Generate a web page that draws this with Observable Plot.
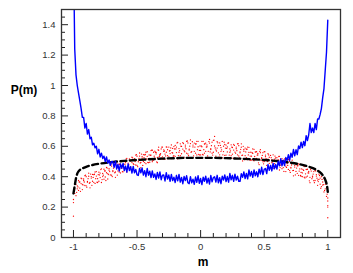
<!DOCTYPE html>
<html>
<head>
<meta charset="utf-8">
<script src="https://cdn.jsdelivr.net/npm/d3@7"></script>
<script src="https://cdn.jsdelivr.net/npm/@observablehq/plot@0.6"></script>
<style>
  html, body { margin: 0; padding: 0; background: #fff; }
</style>
</head>
<body>
<div id="chart"></div>
<script>
// Sampling grids: m = -1.00 ... 1.00 (step 0.01) and the in-between positions
const gridM = d3.range(201).map(i => Math.round((-1 + i * 0.01) * 1000) / 1000);
const gridHalf = d3.range(200).map(i => Math.round((-0.995 + i * 0.01) * 1000) / 1000);

// Blue noisy curve P(m) on gridM
const blueP = [
  1.90, 1.24, 1.07, 1.00, 0.95, 0.90, 0.85, 0.79, 0.79, 0.72, 0.75, 0.68, 0.71, 0.65, 0.66, 0.61, 0.62, 0.59, 0.60, 0.55, 0.58, 0.53, 0.555, 0.52, 0.535, 0.50, 0.53, 0.49, 0.51, 0.475, 0.50,
  0.498, 0.461, 0.502, 0.450, 0.480, 0.438, 0.484, 0.456, 0.487, 0.440, 0.470, 0.430, 0.484, 0.440, 0.466, 0.424, 0.468, 0.426, 0.448, 0.412,
  0.408, 0.454, 0.426, 0.457, 0.410, 0.440, 0.400, 0.454, 0.410, 0.436, 0.394, 0.438, 0.396, 0.418, 0.382, 0.428, 0.391, 0.432, 0.380, 0.410,
  0.411, 0.372, 0.427, 0.384, 0.411, 0.370, 0.415, 0.374, 0.397, 0.362, 0.409, 0.373, 0.415, 0.364, 0.395, 0.354, 0.401, 0.374, 0.406, 0.360,
  0.354, 0.400, 0.360, 0.384, 0.350, 0.398, 0.363, 0.406, 0.356, 0.388, 0.348, 0.396, 0.370, 0.403, 0.358, 0.390, 0.352, 0.408, 0.366, 0.394,
  0.399, 0.365, 0.409, 0.360, 0.393, 0.354, 0.403, 0.378, 0.412, 0.368, 0.401, 0.364, 0.421, 0.380, 0.409, 0.370, 0.417, 0.378, 0.403, 0.370,
  0.370, 0.420, 0.396, 0.431, 0.388, 0.422, 0.386, 0.444, 0.404, 0.434, 0.396, 0.444, 0.406, 0.432, 0.400, 0.450, 0.417, 0.462, 0.414, 0.448,
  0.454, 0.420, 0.480, 0.442, 0.474, 0.438, 0.488, 0.452, 0.480, 0.450, 0.502, 0.471, 0.518, 0.472, 0.508, 0.473, 0.526, 0.506, 0.545, 0.507,
  0.555, 0.528, 0.579, 0.537, 0.577, 0.545, 0.602, 0.585, 0.627, 0.591, 0.632, 0.604, 0.670, 0.638, 0.676,
  0.75, 0.69, 0.72, 0.69, 0.75, 0.71, 0.78, 0.78, 0.81, 0.85, 0.92, 0.98, 1.10, 1.22, 1.43
];

// Red scattered dots: two samples per gridM position, one per gridHalf position
const redA = [
  0.29, 0.29, 0.35, 0.34, 0.31, 0.365, 0.39, 0.35, 0.385, 0.342, 0.40, 0.369, 0.423, 0.362, 0.401, 0.415, 0.363, 0.431, 0.404, 0.362,
  0.430, 0.394, 0.452, 0.421, 0.384, 0.438, 0.461, 0.420, 0.453, 0.412, 0.470, 0.439, 0.492, 0.431, 0.469, 0.483, 0.431, 0.500, 0.473, 0.432,
  0.500, 0.463, 0.521, 0.489, 0.452, 0.505, 0.528, 0.486, 0.519, 0.477, 0.535, 0.503, 0.556, 0.494, 0.532, 0.545, 0.493, 0.561, 0.534, 0.492,
  0.495, 0.542, 0.574, 0.511, 0.568, 0.560, 0.527, 0.594, 0.546, 0.583, 0.530, 0.577, 0.549, 0.596, 0.578, 0.530, 0.572, 0.609, 0.556, 0.598,
  0.606, 0.559, 0.626, 0.585, 0.538, 0.599, 0.624, 0.571, 0.608, 0.555, 0.622, 0.581, 0.642, 0.565, 0.608, 0.621, 0.555, 0.633, 0.597, 0.543,
  0.543, 0.597, 0.633, 0.555, 0.621, 0.609, 0.567, 0.645, 0.585, 0.627, 0.561, 0.665, 0.577, 0.630, 0.605, 0.544, 0.591, 0.632, 0.565, 0.612,
  0.608, 0.563, 0.623, 0.583, 0.538, 0.592, 0.613, 0.562, 0.595, 0.544, 0.604, 0.563, 0.616, 0.542, 0.579, 0.588, 0.525, 0.595, 0.560, 0.508,
  0.510, 0.553, 0.580, 0.513, 0.565, 0.553, 0.515, 0.578, 0.525, 0.558, 0.500, 0.542, 0.509, 0.551, 0.528, 0.475, 0.512, 0.544, 0.486, 0.523,
  0.525, 0.482, 0.534, 0.496, 0.453, 0.500, 0.517, 0.469, 0.496, 0.448, 0.500, 0.462, 0.509, 0.441, 0.473, 0.480, 0.422, 0.484, 0.451, 0.403,
  0.400, 0.441, 0.467, 0.398, 0.449, 0.435, 0.396, 0.457, 0.403, 0.434, 0.375, 0.414, 0.378, 0.417, 0.391, 0.335, 0.365, 0.390, 0.320, 0.330,
  0.26
];
const redB = [
  0.23, 0.32, 0.275, 0.32, 0.375, 0.325, 0.355, 0.315, 0.375, 0.407, 0.34, 0.364, 0.403, 0.327, 0.391, 0.37, 0.413, 0.356, 0.434, 0.387,
  0.370, 0.424, 0.362, 0.401, 0.449, 0.398, 0.426, 0.385, 0.443, 0.477, 0.410, 0.434, 0.472, 0.396, 0.459, 0.438, 0.481, 0.425, 0.503, 0.457,
  0.440, 0.493, 0.431, 0.469, 0.517, 0.465, 0.493, 0.451, 0.509, 0.542, 0.475, 0.498, 0.536, 0.459, 0.522, 0.500, 0.543, 0.486, 0.564, 0.517,
  0.520, 0.572, 0.499, 0.561, 0.523, 0.550, 0.492, 0.574, 0.541, 0.523, 0.595, 0.567, 0.514, 0.561, 0.538, 0.595, 0.552, 0.519, 0.586, 0.538,
  0.534, 0.595, 0.518, 0.561, 0.616, 0.551, 0.582, 0.529, 0.596, 0.633, 0.550, 0.575, 0.618, 0.523, 0.596, 0.567, 0.615, 0.543, 0.633, 0.573,
  0.573, 0.633, 0.543, 0.615, 0.567, 0.597, 0.525, 0.621, 0.579, 0.555, 0.639, 0.602, 0.535, 0.588, 0.557, 0.622, 0.567, 0.524, 0.601, 0.540,
  0.542, 0.596, 0.523, 0.561, 0.610, 0.548, 0.575, 0.524, 0.584, 0.616, 0.537, 0.557, 0.594, 0.504, 0.568, 0.538, 0.581, 0.512, 0.593, 0.536,
  0.535, 0.583, 0.505, 0.563, 0.520, 0.543, 0.480, 0.558, 0.520, 0.498, 0.565, 0.532, 0.474, 0.516, 0.488, 0.540, 0.492, 0.454, 0.516, 0.463,
  0.465, 0.512, 0.444, 0.476, 0.518, 0.460, 0.482, 0.434, 0.486, 0.513, 0.440, 0.457, 0.489, 0.406, 0.463, 0.435, 0.472, 0.409, 0.481, 0.428,
  0.425, 0.471, 0.392, 0.448, 0.404, 0.425, 0.361, 0.437, 0.398, 0.374, 0.440, 0.404, 0.343, 0.382, 0.351, 0.400, 0.345, 0.300, 0.350, 0.270,
  0.21
];
const redC = [
  0.29, 0.352, 0.297, 0.333, 0.365, 0.304, 0.387, 0.346, 0.365, 0.410, 0.331, 0.387, 0.357, 0.417, 0.343, 0.395, 0.416, 0.387, 0.364, 0.413,
  0.412, 0.447, 0.381, 0.410, 0.438, 0.375, 0.457, 0.414, 0.434, 0.479, 0.401, 0.456, 0.426, 0.485, 0.411, 0.462, 0.484, 0.455, 0.433, 0.482,
  0.482, 0.517, 0.450, 0.479, 0.506, 0.443, 0.524, 0.481, 0.500, 0.545, 0.466, 0.521, 0.490, 0.549, 0.474, 0.525, 0.546, 0.517, 0.494, 0.543,
  0.541, 0.575, 0.507, 0.535, 0.561, 0.497, 0.577, 0.533, 0.551, 0.595, 0.515, 0.569, 0.537, 0.595, 0.519, 0.569, 0.589, 0.559, 0.535, 0.583,
  0.583, 0.622, 0.539, 0.572, 0.601, 0.523, 0.618, 0.564, 0.584, 0.635, 0.538, 0.601, 0.561, 0.630, 0.537, 0.595, 0.616, 0.578, 0.547, 0.602,
  0.602, 0.547, 0.578, 0.616, 0.595, 0.537, 0.631, 0.563, 0.604, 0.542, 0.640, 0.589, 0.569, 0.623, 0.528, 0.606, 0.577, 0.544, 0.627, 0.588,
  0.586, 0.620, 0.542, 0.570, 0.595, 0.522, 0.606, 0.555, 0.571, 0.617, 0.524, 0.580, 0.540, 0.600, 0.512, 0.563, 0.581, 0.543, 0.513, 0.561,
  0.558, 0.509, 0.533, 0.562, 0.542, 0.491, 0.567, 0.508, 0.540, 0.485, 0.564, 0.519, 0.500, 0.543, 0.462, 0.525, 0.498, 0.469, 0.536, 0.504,
  0.504, 0.533, 0.460, 0.483, 0.504, 0.435, 0.510, 0.461, 0.474, 0.513, 0.428, 0.477, 0.440, 0.493, 0.412, 0.457, 0.472, 0.437, 0.408, 0.451,
  0.447, 0.397, 0.419, 0.447, 0.425, 0.373, 0.447, 0.387, 0.417, 0.361, 0.438, 0.390, 0.368, 0.408, 0.324, 0.382, 0.348, 0.310, 0.357, 0.285
];
// Isolated red dots near the ends
const redExtraM = [-1, -1, 1, 1, 1];
const redExtraP = [0.14, 0.25, 0.13, 0.20, 0.24];

// Black dashed curve
const dashM = [-1, -0.99, -0.98, -0.97, -0.96, -0.94, -0.92, -0.9, -0.85, -0.8, -0.7, -0.6, -0.5, -0.4, -0.3, -0.2, -0.1, 0, 0.1, 0.2, 0.3, 0.4, 0.5, 0.6, 0.7, 0.8, 0.85, 0.9, 0.92, 0.94, 0.96, 0.97, 0.98, 0.99, 0.995, 1];
const dashP = [0.29, 0.34, 0.39, 0.42, 0.435, 0.45, 0.458, 0.465, 0.477, 0.485, 0.496, 0.504, 0.51, 0.515, 0.519, 0.522, 0.524, 0.524, 0.524, 0.522, 0.519, 0.515, 0.51, 0.503, 0.493, 0.478, 0.466, 0.45, 0.44, 0.428, 0.41, 0.398, 0.38, 0.355, 0.335, 0.30];

// Axis ticks
const xMajorTicks = [-1, -0.5, 0, 0.5, 1];
const xMinorTicks = [-0.9, -0.8, -0.7, -0.6, -0.4, -0.3, -0.2, -0.1, 0.1, 0.2, 0.3, 0.4, 0.6, 0.7, 0.8, 0.9];
const yMajorTicks = [0, 0.2, 0.4, 0.6, 0.8, 1, 1.2, 1.4];
const yMinorTicks = [0.05, 0.1, 0.15, 0.25, 0.3, 0.35, 0.45, 0.5, 0.55, 0.65, 0.7, 0.75, 0.85, 0.9, 0.95, 1.05, 1.1, 1.15, 1.25, 1.3, 1.35, 1.45];

const blue = gridM.map((m, i) => ({m, p: blueP[i]}));
const red = gridM.map((m, i) => ({m, p: redA[i]}))
  .concat(gridM.map((m, i) => ({m, p: redB[i]})))
  .concat(gridHalf.map((m, i) => ({m, p: redC[i]})))
  .concat(redExtraM.map((m, i) => ({m, p: redExtraP[i]})));
const dash = dashM.map((m, i) => ({m, p: dashP[i]}));

const fmt = d => String(d);
const axisColor = "#222";

const chart = Plot.plot({
  width: 353,
  height: 273,
  marginLeft: 61,
  marginRight: 13,
  marginTop: 9,
  marginBottom: 36,
  x: {domain: [-1.094, 1.1], axis: null},
  y: {domain: [0, 1.5], axis: null},
  style: {fontFamily: "'Liberation Sans', Arial, Helvetica, sans-serif", fontSize: "9.5px", color: "#333", background: "#fff"},
  marks: [
    Plot.dot(red, {x: "m", y: "p", r: 0.65, fill: "#ff0000", stroke: null}),
    Plot.line(dash, {x: "m", y: "p", stroke: "#000", strokeWidth: 2.4, strokeDasharray: "6,3.5", curve: "monotone-x"}),
    Plot.line(blue, {x: "m", y: "p", stroke: "#0000ff", strokeWidth: 1.4, clip: true}),
    Plot.axisX(xMinorTicks, {tickSize: -4, text: null, label: null, stroke: axisColor}),
    Plot.axisX(xMajorTicks, {tickSize: -7, text: null, label: null, stroke: axisColor}),
    Plot.axisX(xMajorTicks, {tickSize: 0, tickPadding: 6, tickFormat: fmt, label: null, fill: "#333"}),
    Plot.axisY(yMinorTicks, {tickSize: -4, text: null, label: null, stroke: axisColor}),
    Plot.axisY(yMajorTicks, {tickSize: -7, text: null, label: null, stroke: axisColor}),
    Plot.axisY(yMajorTicks, {tickSize: 0, tickPadding: 6, tickFormat: fmt, label: null, fill: "#333"}),
    Plot.frame({stroke: "#333", strokeWidth: 1.3}),
    Plot.text(["P(m)"], {frameAnchor: "left", textAnchor: "middle", dx: -37.5, dy: -33, fontWeight: "bold", fontSize: 12, fill: "#000"}),
    Plot.text(["m"], {frameAnchor: "bottom", lineAnchor: "middle", dx: 2, dy: 25, fontWeight: "bold", fontSize: 12, fill: "#000"})
  ]
});
document.getElementById("chart").appendChild(chart);
</script>
</body>
</html>
